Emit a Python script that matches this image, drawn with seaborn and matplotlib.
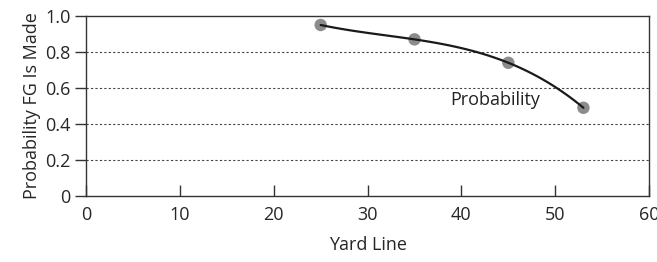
import numpy as np
import pandas as pd
import seaborn as sns
import matplotlib.pyplot as plt

# Field goal data
yard_line = [25, 35, 45, 53]
probability = [0.95, 0.87, 0.74, 0.49]
x_ticks = [0, 10, 20, 30, 40, 50, 60]
y_ticks = [0, 0.2, 0.4, 0.6, 0.8, 1.0]
y_tick_labels = ["0", "0.2", "0.4", "0.6", "0.8", "1.0"]

df = pd.DataFrame({"Yard Line": yard_line, "Probability": probability})

sns.set_style("white")
plt.rcParams['font.family'] = ['Open Sans', 'DejaVu Sans']

fig = plt.figure(figsize=(6.57, 2.62), dpi=100)
ax = fig.add_axes([0.131, 0.252, 0.857, 0.687])

# smooth trend line through the points (cubic fit)
sns.regplot(data=df, x="Yard Line", y="Probability", order=3, ci=None, ax=ax,
            scatter_kws=dict(s=80, color="#8c8c8c", edgecolor="none", zorder=3, alpha=1),
            line_kws=dict(color="#1a1a1a", lw=1.6, zorder=4))

ax.set_xlim(0, 60)
ax.set_ylim(0, 1.0)
ax.set_xticks(x_ticks)
ax.set_yticks(y_ticks)
ax.set_yticklabels(y_tick_labels)

for y in y_ticks[1:-1]:
    ax.axhline(y, color="#444444", lw=0.8, ls=(0, (2, 2)), zorder=1)

for s in ax.spines.values():
    s.set_color("#333333")
    s.set_linewidth(1.0)

fs = 13
ax.tick_params(axis="x", direction="in", length=8, width=1, color="#333333",
               labelsize=fs, pad=7)
ax.tick_params(axis="y", direction="out", length=8, width=1, color="#333333",
               labelsize=fs, pad=3)
ax.tick_params(left=True, bottom=True)

ax.text(43.6, 0.535, "Probability", fontsize=fs, ha="center", va="center", color="#222222")

ax.set_xlabel("Yard Line", fontsize=fs, labelpad=9)
ax.set_ylabel("Probability FG Is Made", fontsize=fs, labelpad=3)

fig.savefig("out.png", dpi=100)
